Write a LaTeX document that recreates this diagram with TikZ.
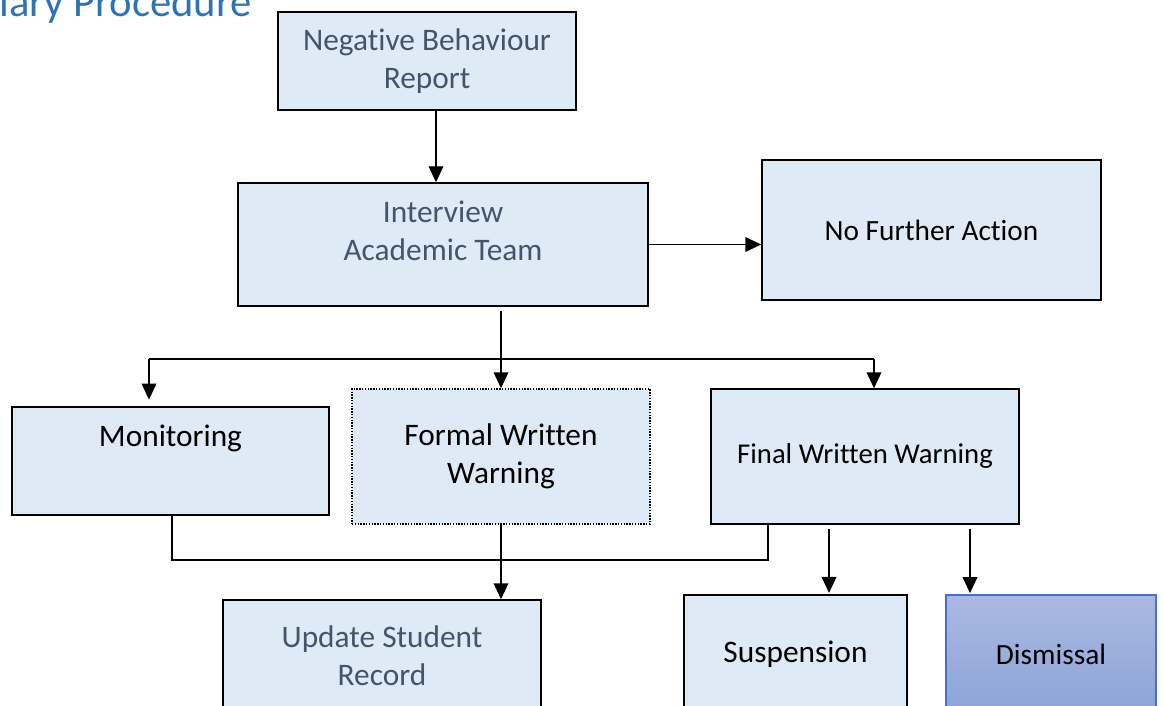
\documentclass[tikz,border=0pt]{standalone}
\usepackage{fontspec}
\setmainfont{Carlito}[Ligatures=NoCommon]
\usetikzlibrary{arrows.meta}
\definecolor{boxfill}{HTML}{DEEAF6}
\definecolor{boxtext}{HTML}{44546A}
\definecolor{titleblue}{HTML}{2E74B5}
\definecolor{distop}{HTML}{AAB9E1}
\definecolor{disbot}{HTML}{8DA4D8}
\definecolor{disline}{HTML}{4472C4}
\begin{document}
\begin{tikzpicture}[x=0.75pt,y=-0.75pt,
  box/.style 2 args={draw,fill=boxfill,line width=1.1pt,inner sep=0pt,align=center,
    minimum width=#1*0.75pt,minimum height=#2*0.75pt},
  grey/.style={text=boxtext},
  lnk/.style={line width=1.1pt},
  arr/.style={line width=1.1pt,-{Triangle[length=12pt,width=11pt]}}]
\fontsize{23.5pt}{28.5pt}\selectfont
\useasboundingbox (0,0) rectangle (1163,706);
\clip (0,0) rectangle (1163,706);
\node[anchor=base west,inner sep=0pt,text=titleblue,font=\fontsize{32pt}{36pt}\selectfont] (title) at (-1,17) {iary Procedure};

% boxes
\node[box={298}{98},grey] (report) at (427,61) {Negative Behaviour\\Report};
\node[box={410}{123},label={[name=iattext,grey,align=center,yshift=10pt]center:Interview\\Academic Team}] (interview) at (443,244.5) {};
\node[box={339}{140},font=\fontsize{22pt}{26pt}\selectfont] (nofurther) at (931.5,230) {No Further Action};
\node[box={317}{108},label={[name=montext,yshift=-42pt]north:Monitoring}] (monitor) at (170.5,461) {};
\node[box={298}{135},densely dotted] (formal) at (501,456.5) {Formal Written\\Warning};
\node[box={308}{135},font=\fontsize{21.5pt}{26pt}\selectfont] (final) at (865,456.5) {Final Written Warning};
\node[box={318}{112},grey] (update) at (382,656) {Update Student\\Record};
\node[box={223}{118}] (suspend) at (795.5,654) {Suspension};
\node[box={210}{118},draw=disline,line width=0.8pt,top color=distop,bottom color=disbot,font=\fontsize{22pt}{26pt}\selectfont] (dismiss) at (1051,654) {Dismissal};

% connectors
\draw[arr] ([xshift=6.75pt]report.south) -- ([xshift=6.75pt]report.south |- interview.north);
\draw[arr] (interview.east) -- (nofurther.west |- interview.east);

\coordinate (split) at (501,359);
\coordinate (splitl) at (149,359);
\coordinate (splitr) at (874,359);
\draw[lnk,shorten <=3pt] (interview.south -| split) -- (split);
\draw[lnk] (splitl) -- (splitr);
\draw[arr] (split) -- (formal.north);
\draw[arr,shorten >=5pt] (splitl) -- (splitl |- monitor.north);
\draw[arr] (splitr) -- (splitr |- final.north);

\coordinate (joinl) at (172,560);
\coordinate (joinr) at (768,560);
\draw[lnk] (joinl |- monitor.south) -- (joinl) -- (joinr) -- (joinr |- final.south);
\draw[arr] (formal.south) -- (formal.south |- update.north);

\coordinate (tosus) at (829,529);
\coordinate (todis) at (970,529);
\draw[arr,shorten >=1pt] (tosus) -- (tosus |- suspend.north);
\draw[arr,shorten >=1pt] (todis) -- (todis |- dismiss.north);
\end{tikzpicture}
\end{document}
